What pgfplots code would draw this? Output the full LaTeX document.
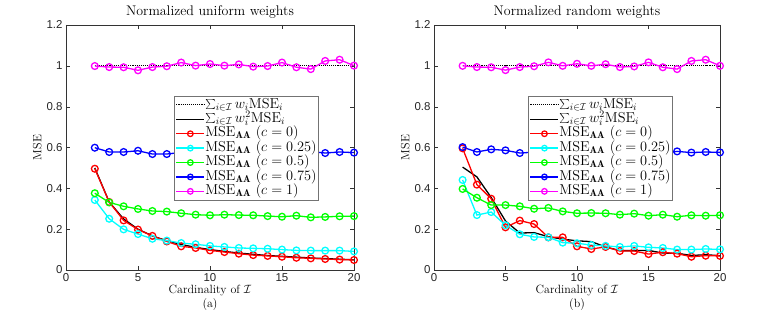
\documentclass[border=0pt]{standalone}
\usepackage{pgfplots}
\pgfplotsset{compat=1.18}
\usepackage{fontspec}
\newfontfamily\ticksans{Liberation Sans}

\definecolor{mred}{rgb}{1,0,0}
\definecolor{mcyan}{rgb}{0,1,1}
\definecolor{mgreen}{rgb}{0,1,0}
\definecolor{mblue}{rgb}{0,0,1}
\definecolor{mmag}{rgb}{1,0,1}
\newcommand\lgf{\fontsize{14.4}{15}\selectfont}

\pgfplotsset{
  legend image code/.code={
    \draw[mark repeat=2,mark phase=2,#1,mark size=2.8pt] plot coordinates {(0bp,0bp) (14bp,0bp) (28bp,0bp)};},
  mse/.style={
    width=288bp, height=245bp, scale only axis,
    xmin=0, xmax=20, ymin=0, ymax=1.2,
    xtick={0,5,10,15,20}, ytick={0,0.2,0.4,0.6,0.8,1,1.2},
    tick align=inside, major tick length=4bp,
    axis line style={draw=black!80}, tick style={draw=black!80},
    /pgf/number format/assume math mode=true,
    tick label style={font=\ticksans\fontsize{11.5}{13}\selectfont, text=black!85},
    label style={font=\fontsize{12}{14}\selectfont},
    title style={font=\fontsize{14}{16}\selectfont, yshift=-3bp},
    ylabel={MSE},
    xlabel style={align=center, yshift=3bp},
    ylabel style={yshift=-2bp},
    legend cell align=left,
    legend style={anchor=north west, draw=black!55, fill=white, font=\lgf,
      inner xsep=1.5bp, inner ysep=1.5bp, row sep=0pt,
      nodes={text height=10bp, text depth=3.8bp, inner sep=0.3bp}},
  },
  dotl/.style={black, densely dotted, line width=1.1pt, no marks},
  soll/.style={black, line width=1.3pt, no marks},
  cr/.style={mred, mark=o, line width=1.3pt, mark size=3.4pt},
  cc/.style={mcyan, mark=o, line width=1.3pt, mark size=3.4pt},
  cg/.style={mgreen, mark=o, line width=1.3pt, mark size=3.4pt},
  cb/.style={mblue, mark=o, line width=1.3pt, mark size=3.4pt},
  cm/.style={mmag, mark=o, line width=1.3pt, mark size=3.4pt},
}

\begin{document}
\begin{tikzpicture}
\useasboundingbox (0,0) rectangle (763bp,327bp);

% (a) uniform weights
\begin{axis}[mse, at={(66bp,57bp)}, anchor=south west,
  title={Normalized uniform weights},
  xlabel={Cardinality of $\mathcal{I}$\\(a)},
  legend style={at={(0.375,0.71)}}]
\addplot[dotl] coordinates {(2,1) (3,1) (4,1) (5,1) (6,1) (7,1) (8,1) (9,1) (10,1) (11,1) (12,1) (13,1) (14,1) (15,1) (16,1) (17,1) (18,1) (19,1) (20,1)};
\addlegendentry{\lgf$\sum_{i\in\mathcal{I}} w_i\mathrm{MSE}_i$}
\addplot[soll] coordinates {(2,0.5) (3,0.333) (4,0.25) (5,0.2) (6,0.167) (7,0.143) (8,0.125) (9,0.111) (10,0.1) (11,0.091) (12,0.083) (13,0.077) (14,0.071) (15,0.067) (16,0.063) (17,0.059) (18,0.056) (19,0.053) (20,0.05)};
\addlegendentry{\lgf$\sum_{i\in\mathcal{I}} w_i^2\mathrm{MSE}_i$}
\addplot[cr] coordinates {(2,0.496) (3,0.333) (4,0.243) (5,0.198) (6,0.167) (7,0.140) (8,0.116) (9,0.108) (10,0.096) (11,0.088) (12,0.080) (13,0.073) (14,0.069) (15,0.065) (16,0.060) (17,0.057) (18,0.054) (19,0.051) (20,0.049)};
\addlegendentry{\lgf$\mathrm{MSE}_{\mathbf{AA}}$ ($c=0$)}
\addplot[cc] coordinates {(2,0.343) (3,0.251) (4,0.199) (5,0.176) (6,0.153) (7,0.144) (8,0.132) (9,0.126) (10,0.118) (11,0.113) (12,0.108) (13,0.106) (14,0.104) (15,0.100) (16,0.096) (17,0.095) (18,0.095) (19,0.095) (20,0.091)};
\addlegendentry{\lgf$\mathrm{MSE}_{\mathbf{AA}}$ ($c=0.25$)}
\addplot[cg] coordinates {(2,0.376) (3,0.331) (4,0.312) (5,0.299) (6,0.289) (7,0.286) (8,0.278) (9,0.271) (10,0.268) (11,0.271) (12,0.269) (13,0.268) (14,0.264) (15,0.261) (16,0.266) (17,0.258) (18,0.260) (19,0.263) (20,0.264)};
\addlegendentry{\lgf$\mathrm{MSE}_{\mathbf{AA}}$ ($c=0.5$)}
\addplot[cb] coordinates {(2,0.599) (3,0.578) (4,0.578) (5,0.584) (6,0.568) (7,0.568) (8,0.576) (9,0.572) (10,0.579) (11,0.574) (12,0.577) (13,0.571) (14,0.576) (15,0.573) (16,0.578) (17,0.580) (18,0.573) (19,0.578) (20,0.575)};
\addlegendentry{\lgf$\mathrm{MSE}_{\mathbf{AA}}$ ($c=0.75$)}
\addplot[cm] coordinates {(2,0.999) (3,0.994) (4,0.993) (5,0.978) (6,0.994) (7,0.998) (8,1.016) (9,1.001) (10,1.009) (11,1.001) (12,1.007) (13,0.996) (14,0.999) (15,1.016) (16,0.993) (17,0.984) (18,1.024) (19,1.030) (20,1.001)};
\addlegendentry{\lgf$\mathrm{MSE}_{\mathbf{AA}}$ ($c=1$)}
\end{axis}

% (b) random weights
\begin{axis}[mse, at={(434bp,57bp)}, anchor=south west, width=286bp,
  title={Normalized random weights},
  xlabel={Cardinality of $\mathcal{I}$\\(b)},
  legend style={at={(0.329,0.71)}}]
\addplot[dotl] coordinates {(2,1) (3,1) (4,1) (5,1) (6,1) (7,1) (8,1) (9,1) (10,1) (11,1) (12,1) (13,1) (14,1) (15,1) (16,1) (17,1) (18,1) (19,1) (20,1)};
\addlegendentry{\lgf$\sum_{i\in\mathcal{I}} w_i\mathrm{MSE}_i$}
\addplot[soll] coordinates {(2,0.504) (3,0.456) (4,0.355) (5,0.240) (6,0.181) (7,0.183) (8,0.163) (9,0.151) (10,0.143) (11,0.139) (12,0.113) (13,0.095) (14,0.095) (15,0.096) (16,0.083) (17,0.082) (18,0.071) (19,0.075) (20,0.070)};
\addlegendentry{\lgf$\sum_{i\in\mathcal{I}} w_i^2\mathrm{MSE}_i$}
\addplot[cr] coordinates {(2,0.596) (3,0.418) (4,0.349) (5,0.209) (6,0.242) (7,0.225) (8,0.160) (9,0.160) (10,0.116) (11,0.103) (12,0.113) (13,0.093) (14,0.093) (15,0.078) (16,0.087) (17,0.080) (18,0.065) (19,0.070) (20,0.069)};
\addlegendentry{\lgf$\mathrm{MSE}_{\mathbf{AA}}$ ($c=0$)}
\addplot[cc] coordinates {(2,0.441) (3,0.269) (4,0.284) (5,0.219) (6,0.175) (7,0.162) (8,0.160) (9,0.134) (10,0.131) (11,0.122) (12,0.118) (13,0.113) (14,0.118) (15,0.111) (16,0.108) (17,0.100) (18,0.100) (19,0.103) (20,0.101)};
\addlegendentry{\lgf$\mathrm{MSE}_{\mathbf{AA}}$ ($c=0.25$)}
\addplot[cg] coordinates {(2,0.397) (3,0.354) (4,0.318) (5,0.318) (6,0.312) (7,0.300) (8,0.304) (9,0.287) (10,0.278) (11,0.279) (12,0.278) (13,0.271) (14,0.276) (15,0.266) (16,0.271) (17,0.261) (18,0.268) (19,0.266) (20,0.268)};
\addlegendentry{\lgf$\mathrm{MSE}_{\mathbf{AA}}$ ($c=0.5$)}
\addplot[cb] coordinates {(2,0.602) (3,0.578) (4,0.591) (5,0.586) (6,0.573) (7,0.577) (8,0.572) (9,0.579) (10,0.574) (11,0.576) (12,0.571) (13,0.577) (14,0.573) (15,0.575) (16,0.570) (17,0.581) (18,0.575) (19,0.578) (20,0.576)};
\addlegendentry{\lgf$\mathrm{MSE}_{\mathbf{AA}}$ ($c=0.75$)}
\addplot[cm] coordinates {(2,1.000) (3,0.994) (4,0.993) (5,0.979) (6,0.994) (7,0.998) (8,1.017) (9,1.000) (10,1.010) (11,1.000) (12,1.008) (13,0.994) (14,0.997) (15,1.017) (16,0.993) (17,0.984) (18,1.024) (19,1.030) (20,1.000)};
\addlegendentry{\lgf$\mathrm{MSE}_{\mathbf{AA}}$ ($c=1$)}
\end{axis}
\end{tikzpicture}
\end{document}
